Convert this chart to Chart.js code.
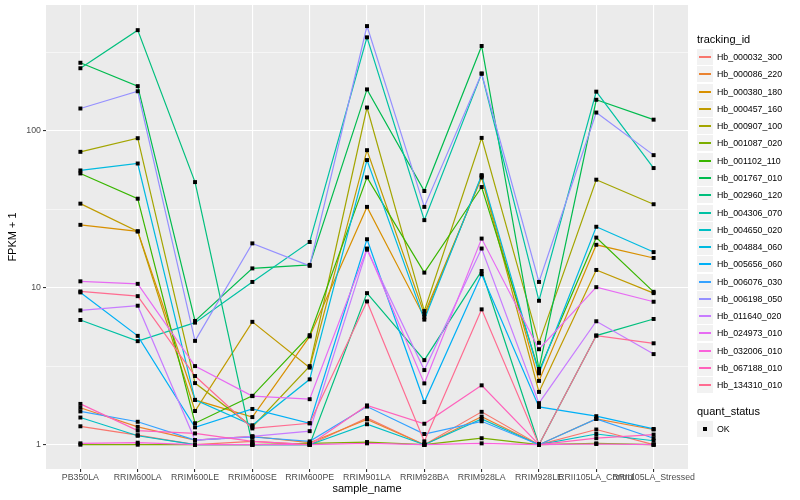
<!DOCTYPE html>
<html>
<head>
<meta charset="utf-8">
<script src="https://cdn.jsdelivr.net/npm/chart.js@4.4.1/dist/chart.umd.min.js"></script>
<style>
  body { margin: 0; background: #fff; font-family: "Liberation Sans", Arial, Helvetica, sans-serif; }
  #wrap { position: relative; width: 800px; height: 500px; }
  #legend { position: absolute; left: 697px; top: 0; color: #000; }
  .ttl { position: absolute; left: 0; font-size: 11px; white-space: nowrap; }
  .row { position: absolute; left: 0; height: 17px; white-space: nowrap; }
  .key { position: absolute; left: 0; top: 0; width: 16px; height: 16px; background: #f2f2f2; border-bottom: 1px solid #fff; border-right: 1px solid #fff; }
  .key i { position: absolute; left: 2px; width: 12px; top: 7px; height: 2px; }
  .key b { position: absolute; left: 6px; top: 6px; width: 4px; height: 4px; background: #000; }
  .lab { position: absolute; left: 20px; top: 3px; font-size: 8.8px; line-height: 11px; }
</style>
</head>
<body>
<div id="wrap">
  <canvas id="fpkmChart" width="800" height="500"></canvas>
  <div id="legend"></div>
</div>
<script>
// samples on the x axis
const samples = ['PB350LA', 'RRIM600LA', 'RRIM600LE', 'RRIM600SE', 'RRIM600PE', 'RRIM901LA',
                 'RRIM928BA', 'RRIM928LA', 'RRIM928LE', 'RRII105LA_Control', 'RRII105LA_Stressed'];

const trackingIds = ['Hb_000032_300', 'Hb_000086_220', 'Hb_000380_180', 'Hb_000457_160', 'Hb_000907_100',
                     'Hb_001087_020', 'Hb_001102_110', 'Hb_001767_010', 'Hb_002960_120', 'Hb_004306_070',
                     'Hb_004650_020', 'Hb_004884_060', 'Hb_005656_060', 'Hb_006076_030', 'Hb_006198_050',
                     'Hb_011640_020', 'Hb_024973_010', 'Hb_032006_010', 'Hb_067188_010', 'Hb_134310_010'];

// ggplot default hue palette, 20 levels
const colors = ['#F8766D', '#EA8331', '#D89000', '#C09B00', '#A3A500', '#7CAE00', '#39B600', '#00BB4E',
                '#00BF7D', '#00C1A3', '#00BFC4', '#00BAE0', '#00B0F6', '#35A2FF', '#9590FF', '#C77CFF',
                '#E76BF3', '#FA62DB', '#FF62BC', '#FF6C91'];

// FPKM + 1, one value per sample
const hb_000032_300 = [1.31, 1.15, 1.0, 1.05, 1.0, 1.48, 1.0, 1.62, 1.0, 1.25, 1.0];
const hb_000086_220 = [1.72, 1.30, 1.07, 1.13, 1.03, 1.45, 1.0, 1.51, 1.0, 1.46, 1.25];
const hb_000380_180 = [25.2, 22.9, 1.93, 1.50, 4.9, 32.8, 6.5, 51.6, 2.55, 18.8, 15.5];
const hb_000457_160 = [34.4, 22.9, 1.64, 6.07, 3.1, 75.4, 6.8, 50.5, 2.17, 13.0, 9.25];
const hb_000907_100 = [73.6, 89.9, 2.47, 1.30, 3.17, 141, 7.11, 90.3, 4.46, 48.9, 34.1];
const hb_001087_020 = [1.0, 1.0, 1.0, 1.0, 1.02, 1.04, 1.0, 1.10, 1.0, 1.02, 1.0];
const hb_001102_110 = [53.6, 37.0, 1.37, 2.05, 4.99, 50.6, 12.5, 43.9, 2.95, 20.9, 9.43];
const hb_001767_010 = [272, 193, 6.15, 13.3, 14.0, 184, 41.4, 348, 3.04, 158, 118];
const hb_002960_120 = [251, 439, 47.2, 1.0, 1.0, 9.25, 3.46, 12.8, 1.0, 4.96, 6.33];
const hb_004306_070 = [6.24, 4.57, 6.0, 10.9, 19.6, 395, 27.0, 232, 8.27, 178, 58.0];
const hb_004650_020 = [1.49, 1.14, 1.0, 1.0, 1.0, 1.35, 1.0, 1.46, 1.0, 1.17, 1.06];
const hb_004884_060 = [56.0, 62.0, 1.93, 1.33, 2.61, 65.2, 6.27, 52.3, 2.85, 24.5, 16.9];
const hb_005656_060 = [9.35, 4.94, 1.29, 1.69, 1.37, 20.4, 1.87, 12.2, 1.74, 1.52, 1.26];
const hb_006076_030 = [1.63, 1.40, 1.07, 1.12, 1.05, 1.75, 1.17, 1.41, 1.0, 1.46, 1.10];
const hb_006198_050 = [139, 179, 4.59, 19.2, 13.8, 466, 32.8, 232, 10.9, 131, 70.1];
const hb_011640_020 = [7.18, 7.69, 1.07, 1.13, 1.22, 17.5, 2.99, 17.8, 1.84, 6.12, 3.78];
const hb_024973_010 = [11.0, 10.6, 3.17, 2.04, 1.95, 17.8, 2.46, 20.6, 4.06, 10.1, 8.15];
const hb_032006_010 = [1.02, 1.03, 1.0, 1.0, 1.0, 1.02, 1.0, 1.02, 1.0, 1.01, 1.0];
const hb_067188_010 = [1.82, 1.23, 1.18, 1.05, 1.0, 1.78, 1.36, 2.39, 1.0, 1.10, 1.16];
const hb_134310_010 = [9.48, 8.85, 2.74, 1.27, 1.37, 8.19, 1.05, 7.29, 1.0, 4.96, 4.43];

const series = [hb_000032_300, hb_000086_220, hb_000380_180, hb_000457_160, hb_000907_100,
                hb_001087_020, hb_001102_110, hb_001767_010, hb_002960_120, hb_004306_070,
                hb_004650_020, hb_004884_060, hb_005656_060, hb_006076_030, hb_006198_050,
                hb_011640_020, hb_024973_010, hb_032006_010, hb_067188_010, hb_134310_010];

// log axis: labelled breaks and minor breaks in between
const yTicks = [1, 10, 100];
const yMinor = [Math.sqrt(10), Math.sqrt(1000), Math.sqrt(100000)];

const datasets = series.map((vals, k) => ({
    label: trackingIds[k],
    data: vals.map((v, i) => ({ x: i, y: v })),
    borderColor: colors[k],
    borderWidth: 1.2,
    pointRadius: 0,
    fill: false,
    tension: 0,
    order: series.length - k
}));

// points sit on top of every line, like geom_point after geom_line
datasets.push({
    label: 'OK',
    data: series.flatMap(vals => vals.map((v, i) => ({ x: i, y: v }))),
    showLine: false,
    pointStyle: 'rect',
    pointRadius: 2.8,
    pointBackgroundColor: '#000',
    pointBorderWidth: 0,
    order: 0
});

const panelBg = {
    id: 'panelBg',
    beforeDraw(chart) {
        const a = chart.chartArea;
        const c = chart.ctx;
        c.save();
        c.fillStyle = '#EBEBEB';
        c.fillRect(a.left, a.top, a.right - a.left, a.bottom - a.top);
        c.restore();
    }
};

const isMajor = v => yTicks.includes(v);
const font = 'Liberation Sans, Arial, sans-serif';

const ctx = document.getElementById('fpkmChart').getContext('2d');
const fpkmChart = new Chart(ctx, {
    type: 'line',
    data: { datasets: datasets },
    plugins: [panelBg],
    options: {
        responsive: false,
        animation: false,
        devicePixelRatio: 1,
        layout: { padding: { left: 0, right: 112, top: 5, bottom: 0 } },
        plugins: { legend: { display: false }, tooltip: { enabled: false } },
        scales: {
            x: {
                type: 'linear',
                min: -0.6,
                max: samples.length - 0.4,
                afterBuildTicks: s => { s.ticks = samples.map((_, i) => ({ value: i })); },
                afterFit: s => { s.height = 31; s.paddingLeft = 0; s.paddingRight = 0; },
                border: { display: false },
                grid: { color: '#fff', lineWidth: 1.1, tickColor: '#333', tickLength: 3, tickWidth: 1.1 },
                ticks: {
                    autoSkip: false, maxRotation: 0, minRotation: 0, padding: 0,
                    color: '#4D4D4D', font: { size: 8.8, family: font },
                    callback: v => samples[v]
                },
                title: {
                    display: true, text: 'sample_name', color: '#000', padding: { top: 0, bottom: 4.5 },
                    font: { size: 11, family: font }
                }
            },
            y: {
                type: 'logarithmic',
                min: 0.719,
                max: 635,
                afterBuildTicks: s => {
                    s.ticks = [...yTicks, ...yMinor].sort((a, b) => a - b).map(v => ({ value: v }));
                },
                afterFit: s => { s.width = 46; s.paddingTop = 0; s.paddingBottom = 0; },
                border: { display: false },
                grid: {
                    color: '#fff',
                    lineWidth: c => (c.tick && isMajor(c.tick.value)) ? 1.1 : 0.55,
                    tickColor: c => (c.tick && isMajor(c.tick.value)) ? '#333' : 'rgba(0,0,0,0)',
                    tickLength: 3, tickWidth: 1.1
                },
                ticks: {
                    padding: 2, color: '#4D4D4D',
                    font: { size: 8.8, family: font },
                    callback: v => isMajor(v) ? String(v) : ''
                },
                title: {
                    display: true, text: 'FPKM + 1', color: '#000', padding: { top: 6, bottom: 0 },
                    font: { size: 11, family: font }
                }
            }
        }
    }
});

// legend, drawn as html next to the panel
const legend = document.getElementById('legend');
let html = '<div class="ttl" style="top:33px">tracking_id</div>';
trackingIds.forEach((id, k) => {
    const top = Math.round(49 + k * 17.28);
    html += '<div class="row" style="top:' + top + 'px"><div class="key"><i style="background:' +
        colors[k] + '"></i></div><span class="lab">' + id + '</span></div>';
});
html += '<div class="ttl" style="top:405px">quant_status</div>';
html += '<div class="row" style="top:421px"><div class="key"><b></b></div><span class="lab">OK</span></div>';
legend.innerHTML = html;
</script>
</body>
</html>
